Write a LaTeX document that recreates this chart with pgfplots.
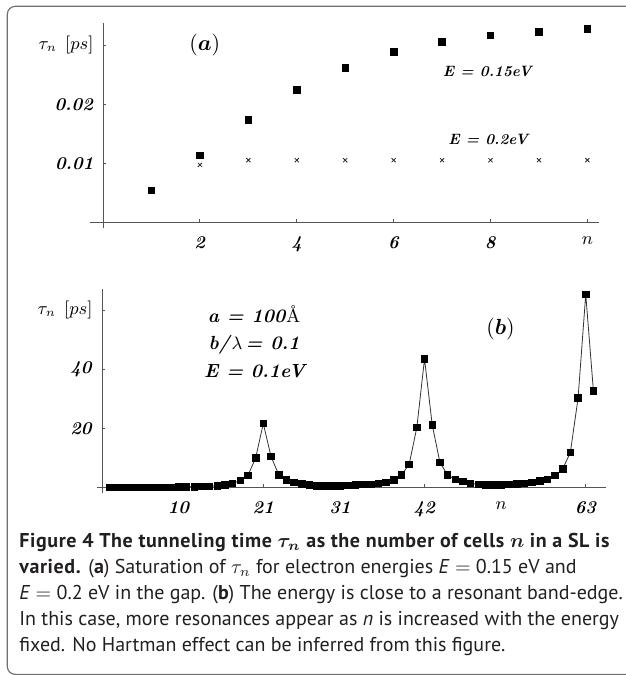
\documentclass[border=0pt]{standalone}
\usepackage{fontspec}
\usepackage{amsmath}
\usepackage{pgfplots}
\pgfplotsset{compat=1.18}
\newfontfamily\capfont{PT Sans}
\newcommand\bi[1]{\textbf{\textit{#1}}}
\definecolor{axgray}{HTML}{555555}
\definecolor{framec}{HTML}{707070}
\definecolor{captxt}{HTML}{231F20}
\definecolor{linec}{HTML}{333333}
\begin{document}
\begin{tikzpicture}[x=1pt,y=1pt]
\useasboundingbox (0pt,0pt) rectangle (313pt,-337.5pt);
\begin{scope}
\clip (0pt,0pt) rectangle (313pt,-337.5pt);
\draw[framec, line width=0.6pt, rounded corners=4pt] (3.65pt,-3.15pt) rectangle (330pt,-337.2pt);
\end{scope}

% ---------------- panel (a)
\begin{axis}[
  at={(45pt,-113.85pt)}, anchor=south west,
  width=254.5pt, height=102.5pt, scale only axis,
  xmin=-0.27, xmax=10.24, ymin=-0.0009, ymax=0.03383,
  axis lines=middle, axis line style={axgray, line width=0.5pt, -},
  tick align=inside, major tick length=1.7pt, tick style={axgray, line width=0.5pt},
  xtick={2,4,6,8,10}, xticklabels={\bi{2},\bi{4},\bi{6},\bi{8},\ensuremath{n}},
  ytick={0.01,0.02,0.03}, yticklabels={\bi{0.01},\bi{0.02},\ensuremath{\tau_n\;\,[ps]}},
  ticklabel style={font=\fontsize{9}{10}\selectfont},
  xticklabel style={yshift=-3.5pt},
  yticklabel style={xshift=-1.3pt},
  scaled y ticks=false,
  clip=false,
]
\addplot[only marks, mark=square*, mark size=1.65pt, black] coordinates {
(1,0.0054)(2,0.01132)(3,0.0174)(4,0.02248)(5,0.0262)(6,0.02885)(7,0.0306)(8,0.03166)(9,0.03228)(10,0.03273)};
\addplot[only marks, mark=x, mark size=1.45pt, black!85, line width=0.4pt] coordinates {
(2,0.00975)(3,0.01054)(4,0.01054)(5,0.01054)(6,0.01054)(7,0.01054)(8,0.01054)(9,0.01054)(10,0.01054)};
\node[font=\fontsize{11}{12}\selectfont] at (axis cs:2.1,0.0300) {$(\boldsymbol{a})$};
\node[font=\fontsize{7.5}{9}\selectfont] at (axis cs:7.95,0.02553) {\bi{E = 0.15eV}};
\node[font=\fontsize{7.5}{9}\selectfont] at (axis cs:7.97,0.01407) {\bi{E = 0.2eV}};
\end{axis}

% ---------------- panel (b)
\begin{axis}[
  at={(48.35pt,-246.35pt)}, anchor=south west,
  width=254.5pt, height=101.7pt, scale only axis,
  xmin=-0.7, xmax=65.6, ymin=-1.7, ymax=67.1,
  axis lines=middle, axis line style={axgray, line width=0.5pt, -},
  tick align=inside, major tick length=1.7pt, tick style={axgray, line width=0.5pt},
  xtick={10,21,31,42,52,63}, xticklabels={\bi{10},\bi{21},\bi{31},\bi{42},\ensuremath{n},\bi{63}},
  ytick={20,40,60}, yticklabels={\bi{20},\bi{40},\ensuremath{\tau_n\;\,[ps]}},
  ticklabel style={font=\fontsize{9}{10}\selectfont},
  xticklabel style={yshift=-3.5pt},
  yticklabel style={xshift=-1.3pt},
  clip=false,
]
\addplot[linec, line width=0.4pt, mark=square*, mark size=1.65pt, mark options={black, fill=black}] coordinates {
(1,0.1)(2,0.1)(3,0.1)(4,0.1)(5,0.1)(6,0.1)(7,0.12)(8,0.15)(9,0.15)(10,0.2)
(11,0.25)(12,0.3)(13,0.4)(14,0.5)(15,0.7)(16,0.9)(17,1.5)(18,2.4)(19,4.2)(20,10.0)
(21,21.7)(22,10.6)(23,4.4)(24,2.6)(25,1.8)(26,1.2)(27,0.9)(28,0.7)(29,0.6)(30,0.6)
(31,0.6)(32,0.8)(33,0.9)(34,1.1)(35,1.1)(36,1.5)(37,1.8)(38,2.6)(39,4.3)(40,7.9)
(41,20.4)(42,43.6)(43,21.3)(44,8.6)(45,4.3)(46,2.8)(47,2.1)(48,1.5)(49,1.1)(50,1.0)
(51,1.0)(52,1.0)(53,1.1)(54,1.2)(55,1.5)(56,1.8)(57,2.2)(58,2.8)(59,4.2)(60,6.3)
(61,12.0)(62,30.3)(63,65.4)(64,32.7)};
\node[font=\fontsize{11}{12}\selectfont] at (axis cs:51.9,53.6) {$(\boldsymbol{b})$};
\node[font=\fontsize{9.5}{11}\selectfont] at (axis cs:19.8,58.6) {\bi{a = 100}\AA};
\node[font=\fontsize{9.5}{11}\selectfont] at (axis cs:19.8,48.3) {\bi{b/}$\lambda$\,\bi{= 0.1}};
\node[font=\fontsize{9.5}{11}\selectfont] at (axis cs:20.0,39.4) {\bi{E = 0.1eV}};
\end{axis}

% ---------------- caption
\node[anchor=base west, inner sep=0pt, text=captxt] at (9.5pt,-273.5pt) {\parbox[t]{310pt}{\capfont\fontsize{10}{13}\selectfont\raggedright
{\addfontfeature{LetterSpace=3.0}\textbf{Figure 4 The tunneling time $\boldsymbol{\tau_n}$ as the number of cells $\boldsymbol{n}$ in a SL is}}\\
{\addfontfeature{LetterSpace=3.0}\textbf{varied.}} (\textbf{a}) Saturation of $\tau_n$ for electron energies \textit{E}~$=$~0.15 eV and\\
\textit{E}~$=$~0.2 eV in the gap. (\textbf{b}) The energy is close to a resonant band-edge.\\
In this case, more resonances appear as \textit{n} is increased with the energy\\
fixed. No Hartman effect can be inferred from this figure.}};
\end{tikzpicture}
\end{document}
